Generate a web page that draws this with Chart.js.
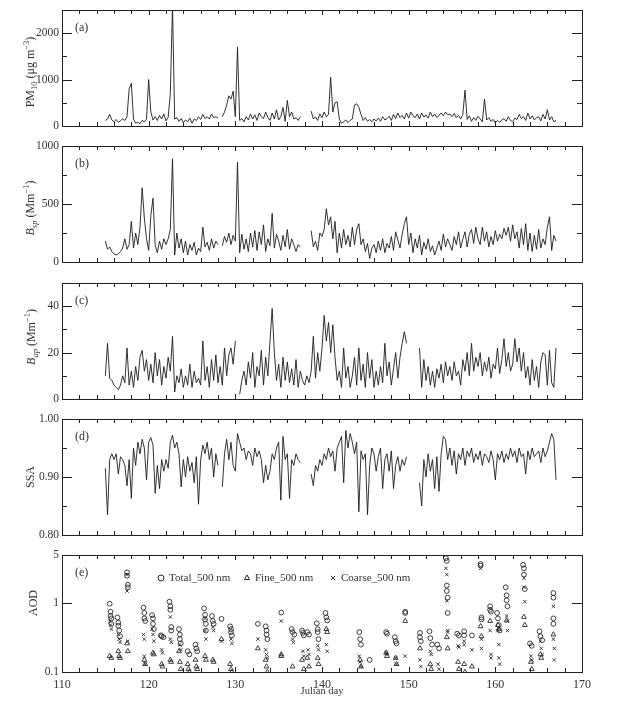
<!DOCTYPE html>
<html>
<head>
<meta charset="utf-8">
<script src="https://cdn.jsdelivr.net/npm/chart.js@4.4.1/dist/chart.umd.min.js"></script>
<style>
  html, body { margin: 0; padding: 0; background: #fff; }
  #wrap { position: relative; width: 633px; height: 716px; }
  #wrap canvas { position: absolute; left: 0; top: 0; }
</style>
</head>
<body>
<div id="wrap">
  <canvas id="pa" width="633" height="716"></canvas>
  <canvas id="pb" width="633" height="716"></canvas>
  <canvas id="pc" width="633" height="716"></canvas>
  <canvas id="pd" width="633" height="716"></canvas>
  <canvas id="pe" width="633" height="716"></canvas>
</div>
<script>
// hourly-ish series sampled every 6 h starting on day 115
const dayStart = 115;
const dayStep = 0.25;

const dayTicks = [110, 120, 130, 140, 150, 160, 170];
const dayMinorTicks = [112, 114, 116, 118, 122, 124, 126, 128, 132, 134, 136, 138, 142, 144, 146, 148,
  152, 154, 156, 158, 162, 164, 166, 168];

const pm10 = [
  120,150,250,130, 90,140,80,110, 160,120,200,800, 920,150,60,80, 50,120,90,150,
  1000,300,130,200, 120,230,150,260, 110,190,700,2600, 150,180,100,160, 70,130,90,170,
  60,150,120,200, 140,250,160,200, 150,260,180,200, 170,null,200,300, 450,650,580,750,
  200,1700,120,160, 90,200,130,260, 150,240,120,280, 200,160,300,180, 120,280,150,350,
  130,200,400,100, 550,200,300,150, 180,120,200,null, null,null,null,320, 150,200,120,260,
  180,300,200,250, 1050,300,500,520, 150,60,90,130, 70,120,150,450, 480,400,250,120,
  180,100,140,90, 150,110,170,100, 200,130,160,210, 120,250,160,280, 180,230,150,280,
  170,300,220,180, 260,150,280,190, 240,170,300,200, 260,180,230,280, 220,300,240,260,
  200,270,180,230, 150,250,770,140, 220,100,180,120, 210,150,90,580, 130,180,100,140,
  70,120,80,130, 160,100,200,120, 90,170,140,250, 160,200,120,280, 150,220,130,180,
  200,110,250,150, 350,130,200,90, 120
];

const bsp = [
  180,110,130,90, 70,60,70,90, 120,200,110,150, 350,120,250,150, 300,640,380,200,
  100,400,550,150, 80,180,110,200, 150,200,280,890, 60,250,120,200, 80,180,60,150,
  100,170,60,120, 90,300,130,170, 100,200,120,180, 150,null,140,220, 170,250,150,230,
  180,860,80,240, 110,200,90,250, 130,270,100,260, 150,320,90,200, 140,420,120,240,
  180,100,230,130, 280,110,200,150, 90,150,130,null, null,null,null,270, 130,180,100,250,
  220,280,460,320, 390,200,350,80, 250,120,280,150, 230,130,300,150, 280,330,150,200,
  90,160,30,120, 150,80,180,100, 200,80,160,120, 220,100,260,190, 120,240,330,390,
  150,250,80,200, 120,230,60,170, 110,200,90,140, 60,120,180,100, 240,130,200,150,
  100,220,150,260, 120,200,260,130, 240,280,160,300, 200,150,300,180, 260,130,220,150,
  270,180,240,200, 290,230,300,180, 320,200,260,120, 290,150,330,100, 250,90,230,110,
  280,120,200,150, 300,390,100,230, 180
];

const bap = [
  10,24,9,8, 6,5,4,6, 10,7,22,6, 12,5,14,8, 18,21,12,17,
  8,15,7,20, 10,17,6,14, 9,18,12,27, 3,10,7,13, 5,10,6,15,
  5,12,7,9, 6,25,8,14, 5,17,8,19, 7,14,6,22, 10,19,22,15,
  25,null,2,8, 12,6,16,9, 20,5,14,10, 21,6,18,10, 25,39,20,8,
  15,5,18,8, 16,7,13,6, 17,5,12,8, 6,10,7,12, 27,9,20,12,
  22,36,25,33, 20,32,18,8, 12,5,22,9, 14,5,10,18, 6,22,8,15,
  5,20,9,17, 5,12,6,14, 7,24,10,16, 6,13,20,9, 18,24,29,24,
  null,null,null,null, null,22,5,17, 8,14,6,12, 5,13,9,15, 7,16,10,14,
  8,16,10,12, 6,17,12,20, 10,24,12,18, 14,20,10,16, 12,18,9,15,
  13,22,11,17, 26,14,20,12, 15,26,16,22, 12,20,9,14, 6,17,8,14,
  5,16,20,19, 6,21,7,5, 22
];

const ssa = [
  0.915,0.835,0.93,0.94, 0.93,0.94,0.905,0.935, 0.93,0.92,0.885,0.93, 0.863,0.95,0.92,0.96, 0.94,0.965,0.95,0.895,
  0.96,0.968,0.955,0.872, 0.92,0.88,0.93,0.91, 0.93,0.915,0.96,0.972, 0.95,0.96,0.94,0.883, 0.93,0.90,0.935,0.91,
  0.925,0.89,0.935,0.853, 0.93,0.955,0.94,0.96, 0.93,0.95,0.90,0.94, 0.92,null,0.883,0.94, 0.965,0.93,0.96,0.92,
  0.91,0.975,0.96,0.945, 0.95,0.93,0.945,0.94, 0.92,0.95,0.935,0.945, 0.93,0.89,0.92,0.895, 0.91,0.94,0.93,0.95,
  0.96,0.86,0.97,0.93, 0.94,0.863,0.93,0.92, 0.94,0.93,0.925,null, null,null,null,0.905, 0.885,0.92,0.91,0.93,
  0.92,0.94,0.93,0.95, 0.935,0.945,0.91,0.95, 0.96,0.97,0.89,0.98, 0.95,0.975,0.96,0.94, 0.96,0.84,0.945,0.93,
  0.94,0.835,0.92,0.95, 0.94,0.91,0.935,0.95, 0.88,0.93,0.94,0.91, 0.945,0.88,0.92,0.935, 0.91,0.93,0.92,0.935,
  null,null,null,null, null,0.89,0.85,0.93, 0.90,0.94,0.91,0.93, 0.88,0.935,0.875,0.94, 0.97,0.965,0.93,0.95,
  0.92,0.945,0.905,0.94, 0.93,0.95,0.92,0.945, 0.935,0.95,0.925,0.94, 0.93,0.945,0.92,0.94, 0.935,0.925,0.945,0.93,
  0.895,0.94,0.93,0.945, 0.925,0.94,0.93,0.95, 0.935,0.945,0.925,0.95, 0.935,0.94,0.905,0.945, 0.93,0.95,0.935,0.94,
  0.945,0.925,0.95,0.935, 0.945,0.96,0.975,0.965, 0.895
];

// AOD at 500 nm, [day, value]
const aodTotal = [
  [115.5,0.98],[115.6,0.75],[115.6,0.65],[115.7,0.6],[115.7,0.5],
  [116.4,0.62],[116.5,0.52],[116.5,0.47],[116.6,0.4],[116.7,0.33],
  [117.5,2.8],[117.5,2.5],[117.6,1.85],[117.6,1.7],
  [119.4,0.86],[119.5,0.72],[119.5,0.6],[119.6,0.55],
  [120.4,0.67],[120.5,0.6],[120.5,0.5],[120.6,0.42],
  [121.4,0.34],[121.5,0.33],[121.7,0.32],
  [122.4,1.05],[122.5,0.9],[122.5,0.8],[122.6,0.45],[122.6,0.4],
  [123.5,0.42],[123.6,0.35],[123.6,0.3],[123.7,0.26],
  [124.5,0.2],[124.7,0.18],
  [125.4,0.25],[125.5,0.22],[125.6,0.2],
  [126.4,0.84],[126.5,0.68],[126.5,0.58],[126.6,0.5],[126.6,0.4],
  [127.3,0.65],[127.4,0.55],[127.5,0.5],
  [128.4,0.59],
  [129.4,0.46],[129.5,0.42],[129.5,0.38],[129.6,0.34],
  [132.6,0.5],
  [133.5,0.46],[133.6,0.4],[133.6,0.35],[133.7,0.3],
  [135.3,0.73],
  [136.5,0.42],[136.6,0.38],[136.8,0.35],
  [137.7,0.4],[137.8,0.37],[137.9,0.34],
  [138.3,0.38],[138.5,0.35],
  [139.4,0.51],[139.5,0.42],[139.5,0.38],[139.6,0.3],
  [140.4,0.72],[140.5,0.62],[140.6,0.56],
  [144.3,0.38],[144.4,0.3],[144.5,0.25],
  [145.5,0.15],
  [147.4,0.38],[147.5,0.36],
  [148.4,0.32],[148.5,0.28],[148.6,0.26],
  [149.6,0.75],[149.6,0.72],
  [151.3,0.37],[151.3,0.32],[151.4,0.28],
  [152.4,0.39],[152.5,0.31],[152.7,0.25],
  [153.3,0.25],[153.5,0.22],
  [154.3,4.5],[154.4,4.1],[154.4,1.8],[154.4,1.5],[154.5,1.2],[154.5,0.72],
  [155.6,0.36],[155.8,0.34],
  [156.4,0.39],[156.4,0.34],
  [157.3,0.34],
  [158.3,3.7],[158.3,3.5],[158.4,0.62],[158.4,0.58],
  [159.4,0.9],[159.4,0.8],[159.5,0.75],
  [160.2,0.72],[160.3,0.6],[160.4,0.48],[160.5,0.4],
  [161.2,1.7],[161.3,1.3],[161.3,1.1],[161.4,0.9],
  [163.2,3.6],[163.3,3.2],[163.3,2.6],[163.4,1.6],
  [164.0,0.26],[164.2,0.24],
  [165.1,0.39],[165.2,0.33],[165.4,0.29],
  [166.7,1.4],[166.7,1.2],[166.7,0.6],[166.7,0.5]
];

const aodFine = [
  [115.5,0.17],[115.7,0.16],
  [116.5,0.2],[116.6,0.17],[116.7,0.16],
  [117.5,0.26],[117.6,0.2],
  [119.5,0.15],[119.6,0.13],
  [120.5,0.19],[120.6,0.18],
  [121.5,0.13],[121.6,0.12],
  [122.5,0.15],[122.6,0.14],
  [123.5,0.2],[123.6,0.14],[123.7,0.11],
  [124.5,0.13],[124.6,0.11],[124.7,0.1],
  [125.4,0.15],[125.5,0.12],[125.6,0.11],
  [126.5,0.17],[126.6,0.15],
  [127.4,0.15],[127.5,0.14],
  [128.4,0.3],
  [129.4,0.13],[129.5,0.11],[129.6,0.1],
  [132.6,0.22],
  [133.5,0.15],[133.6,0.12],[133.7,0.1],
  [135.3,0.18],[135.3,0.17],
  [136.6,0.12],
  [137.7,0.15],[137.9,0.11],
  [138.3,0.16],[138.5,0.12],
  [139.5,0.16],[139.6,0.13],
  [140.5,0.42],[140.6,0.38],
  [144.4,0.15],[144.5,0.12],
  [147.4,0.19],[147.5,0.17],
  [148.5,0.16],[148.6,0.13],
  [149.6,0.55],
  [151.3,0.22],
  [152.5,0.13],[152.6,0.11],
  [154.4,0.32],[154.5,0.22],
  [155.7,0.14],[155.8,0.11],
  [156.4,0.13],[156.5,0.1],
  [157.3,0.12],
  [158.3,0.46],[158.4,0.33],
  [159.4,0.55],
  [160.3,0.48],[160.4,0.42],
  [161.3,0.56],
  [163.3,0.63],[163.4,0.48],
  [164.1,0.14],[164.2,0.11],
  [165.2,0.18],[165.3,0.16],
  [166.7,0.35]
];

const aodCoarse = [
  [115.5,0.55],[115.6,0.48],[115.7,0.42],
  [116.5,0.35],[116.6,0.3],[116.7,0.27],
  [117.5,2.6],[117.5,1.5],[117.6,0.28],
  [119.4,0.35],[119.5,0.3],[119.5,0.17],[119.6,0.13],
  [120.4,0.42],[120.5,0.35],[120.6,0.28],
  [121.5,0.21],[121.6,0.19],
  [122.5,0.63],[122.5,0.3],[122.6,0.27],
  [123.6,0.25],[123.7,0.21],
  [126.5,0.6],[126.5,0.4],[126.6,0.3],
  [127.4,0.45],[127.5,0.4],
  [128.4,0.28],
  [129.5,0.3],[129.6,0.26],
  [132.6,0.3],
  [133.5,0.21],[133.6,0.18],[133.7,0.16],
  [135.3,0.55],
  [136.6,0.3],[136.7,0.27],
  [137.8,0.2],[137.9,0.17],
  [138.4,0.21],[138.5,0.18],
  [139.5,0.24],[139.6,0.21],
  [140.5,0.25],[140.6,0.2],
  [144.3,0.17],[144.4,0.14],[144.5,0.12],
  [147.4,0.19],[147.5,0.18],
  [148.5,0.16],[148.6,0.13],
  [149.6,0.17],
  [151.3,0.15],[151.4,0.12],
  [152.5,0.2],[152.6,0.18],
  [153.4,0.13],[153.5,0.11],
  [154.3,3.2],[154.4,2.6],[154.4,1.08],[154.5,0.4],[154.5,0.38],
  [155.7,0.24],[155.8,0.23],
  [156.4,0.28],[156.4,0.25],
  [157.3,0.21],
  [158.3,3.2],[158.4,0.3],[158.4,0.22],
  [159.4,0.4],[159.5,0.18],[159.5,0.16],
  [160.3,0.4],[160.4,0.25],[160.4,0.16],[160.5,0.13],
  [161.3,0.65],[161.4,0.55],[161.4,0.4],
  [163.3,2.3],[163.3,1.7],[163.4,1.05],
  [164.1,0.17],[164.2,0.15],
  [165.2,0.28],[165.3,0.22],[165.4,0.18],
  [166.7,0.9],[166.7,0.3],[166.8,0.22],[166.8,0.15]
];

const days = pm10.map((_, i) => dayStart + i * dayStep);
const asPoints = arr => arr.map((v, i) => ({ x: days[i], y: v }));
const pairPoints = arr => arr.map(p => ({ x: p[0], y: p[1] }));

const serif = '"Liberation Serif", "Times New Roman", serif';
const ink = '#333';

function drawRich(ctx, parts, cx, cy) {
  ctx.save();
  ctx.translate(cx, cy);
  ctx.rotate(-Math.PI / 2);
  ctx.fillStyle = ink;
  ctx.textBaseline = 'alphabetic';
  const fontOf = p => (p.it ? 'italic ' : '') + (p.sub || p.sup ? 8.5 : 12) + 'px ' + serif;
  let w = 0;
  parts.forEach(p => { ctx.font = fontOf(p); w += ctx.measureText(p.t).width; });
  let x = -w / 2;
  parts.forEach(p => {
    ctx.font = fontOf(p);
    const dy = p.sub ? 3 : p.sup ? -5 : 0;
    ctx.fillText(p.t, x, 4 + dy);
    x += ctx.measureText(p.t).width;
  });
  ctx.restore();
}

// frame, inward ticks on all sides, panel tag, rich y title, legend
const panelDeco = {
  id: 'panelDeco',
  afterDraw(chart, args, o) {
    const { ctx, chartArea: a, scales: { x, y } } = chart;
    ctx.save();
    ctx.strokeStyle = '#222';
    ctx.lineWidth = 1;
    ctx.beginPath();
    const vx = (v, len) => {
      const px = Math.round(x.getPixelForValue(v)) + 0.5;
      ctx.moveTo(px, a.bottom); ctx.lineTo(px, a.bottom - len);
      ctx.moveTo(px, a.top); ctx.lineTo(px, a.top + len);
    };
    const hy = (v, len) => {
      const py = Math.round(y.getPixelForValue(v)) + 0.5;
      ctx.moveTo(a.left, py); ctx.lineTo(a.left + len, py);
      ctx.moveTo(a.right, py); ctx.lineTo(a.right - len, py);
    };
    dayTicks.forEach(v => vx(v, 5));
    dayMinorTicks.forEach(v => vx(v, 4));
    o.major.forEach(v => hy(v, 10));
    o.minor.forEach(v => hy(v, 5));
    ctx.stroke();
    ctx.strokeRect(Math.round(a.left) + 0.5, Math.round(a.top) + 0.5,
      Math.round(a.right - a.left), Math.round(a.bottom - a.top));

    ctx.fillStyle = ink;
    ctx.font = '12px ' + serif;
    ctx.textBaseline = 'middle';
    ctx.textAlign = 'left';
    ctx.fillText(o.tag, a.left + 13, a.top + 18);

    drawRich(ctx, o.title, o.titleX, o.titleY);

    if (o.legend) {
      ctx.font = '11px ' + serif;
      const ly = a.top + 23;
      o.legend.forEach(item => {
        const ds = chart.data.datasets[item.ds];
        ctx.strokeStyle = ds.borderColor;
        ctx.fillStyle = 'rgba(0,0,0,0)';
        ctx.lineWidth = 1;
        Chart.helpers.drawPoint(ctx, { pointStyle: ds.pointStyle, radius: 3, rotation: 0, borderWidth: 1 }, item.x, ly);
        ctx.fillStyle = ink;
        ctx.fillText(ds.label, item.x + 8, ly);
      });
    }
    ctx.restore();
  }
};

const lineSet = (label, arr) => ({
  label, data: asPoints(arr), borderColor: '#1c1c1c', borderWidth: 0.9,
  pointRadius: 0, tension: 0, spanGaps: false, fill: false
});

function makePanel(id, p) {
  const bottomAxis = !!p.bottomAxis;
  const xScale = {
    type: 'linear', min: 110, max: 170,
    display: bottomAxis,
    afterBuildTicks: s => { s.ticks = dayTicks.map(v => ({ value: v })); },
    grid: { display: false, drawTicks: false },
    border: { display: false },
    ticks: { color: ink, font: { family: serif, size: 12 }, padding: 6, autoSkip: false, maxRotation: 0 },
    title: { display: bottomAxis, text: 'Julian day', color: ink,
      font: { family: serif, size: 10.5, lineHeight: 1 }, padding: { top: 0, bottom: 20 } }
  };
  if (bottomAxis) xScale.afterFit = s => { s.height = 716 - p.bottom; };
  return new Chart(document.getElementById(id), {
    type: p.type || 'line',
    data: { datasets: p.datasets },
    options: {
      responsive: false,
      animation: false,
      events: [],
      layout: { padding: { top: p.top, bottom: bottomAxis ? 0 : 716 - p.bottom, left: 0, right: 51 } },
      plugins: {
        legend: { display: false },
        tooltip: { enabled: false },
        panelDeco: { tag: p.tag, major: p.major, minor: p.minor, title: p.title,
          titleX: p.titleX, titleY: p.titleY, legend: p.legend }
      },
      scales: {
        x: xScale,
        y: {
          type: p.log ? 'logarithmic' : 'linear',
          min: p.min, max: p.max,
          afterFit: s => { s.width = 62; },
          afterBuildTicks: s => { s.ticks = p.major.map(v => ({ value: v })); },
          grid: { display: false, drawTicks: false },
          border: { display: false },
          ticks: { color: ink, font: { family: serif, size: 11.5 }, padding: 3, autoSkip: false,
            callback: p.fmt || (v => String(v)) }
        }
      }
    },
    plugins: [panelDeco]
  });
}

makePanel('pa', {
  tag: '(a)', top: 9, bottom: 126, min: 0, max: 2500,
  major: [0, 1000, 2000], minor: [500, 1500],
  title: [{ t: 'PM' }, { t: '10', sub: true }, { t: ' (\u03bcg m' }, { t: '\u22123', sup: true }, { t: ')' }],
  titleX: 30, titleY: 72,
  datasets: [lineSet('PM10', pm10)]
});

makePanel('pb', {
  tag: '(b)', top: 146, bottom: 262, min: 0, max: 1000,
  major: [0, 500, 1000], minor: [250, 750],
  title: [{ t: 'B', it: true }, { t: 'sp', sub: true, it: true }, { t: ' (Mm' }, { t: '\u22121', sup: true }, { t: ')' }],
  titleX: 30, titleY: 208,
  datasets: [lineSet('Bsp', bsp)]
});

makePanel('pc', {
  tag: '(c)', top: 283, bottom: 399, min: 0, max: 50,
  major: [0, 20, 40], minor: [10, 30],
  title: [{ t: 'B', it: true }, { t: 'ap', sub: true, it: true }, { t: ' (Mm' }, { t: '\u22121', sup: true }, { t: ')' }],
  titleX: 31, titleY: 337,
  datasets: [lineSet('Bap', bap)]
});

makePanel('pd', {
  tag: '(d)', top: 419, bottom: 535, min: 0.8, max: 1.0,
  major: [0.8, 0.9, 1.0], minor: [0.85, 0.95],
  fmt: v => Number(v).toFixed(2),
  title: [{ t: 'SSA' }],
  titleX: 30, titleY: 477,
  datasets: [lineSet('SSA', ssa)]
});

const scatterSet = (label, arr, style) => ({
  type: 'scatter', label, data: pairPoints(arr), pointStyle: style,
  pointRadius: style === 'triangle' ? 2.8 : 2.4, borderColor: '#2a2a2a', borderWidth: 0.9,
  backgroundColor: 'rgba(0,0,0,0)', showLine: false
});

makePanel('pe', {
  type: 'scatter', tag: '(e)', top: 555, bottom: 672, min: 0.1, max: 5, log: true,
  major: [0.1, 1, 5], minor: [],
  fmt: v => String(Number(v)),
  title: [{ t: 'AOD' }],
  titleX: 33, titleY: 603,
  bottomAxis: true,
  legend: [{ ds: 0, x: 161 }, { ds: 1, x: 247 }, { ds: 2, x: 333 }],
  datasets: [
    scatterSet('Total_500 nm', aodTotal, 'circle'),
    scatterSet('Fine_500 nm', aodFine, 'triangle'),
    scatterSet('Coarse_500 nm', aodCoarse, 'crossRot')
  ]
});
</script>
</body>
</html>
